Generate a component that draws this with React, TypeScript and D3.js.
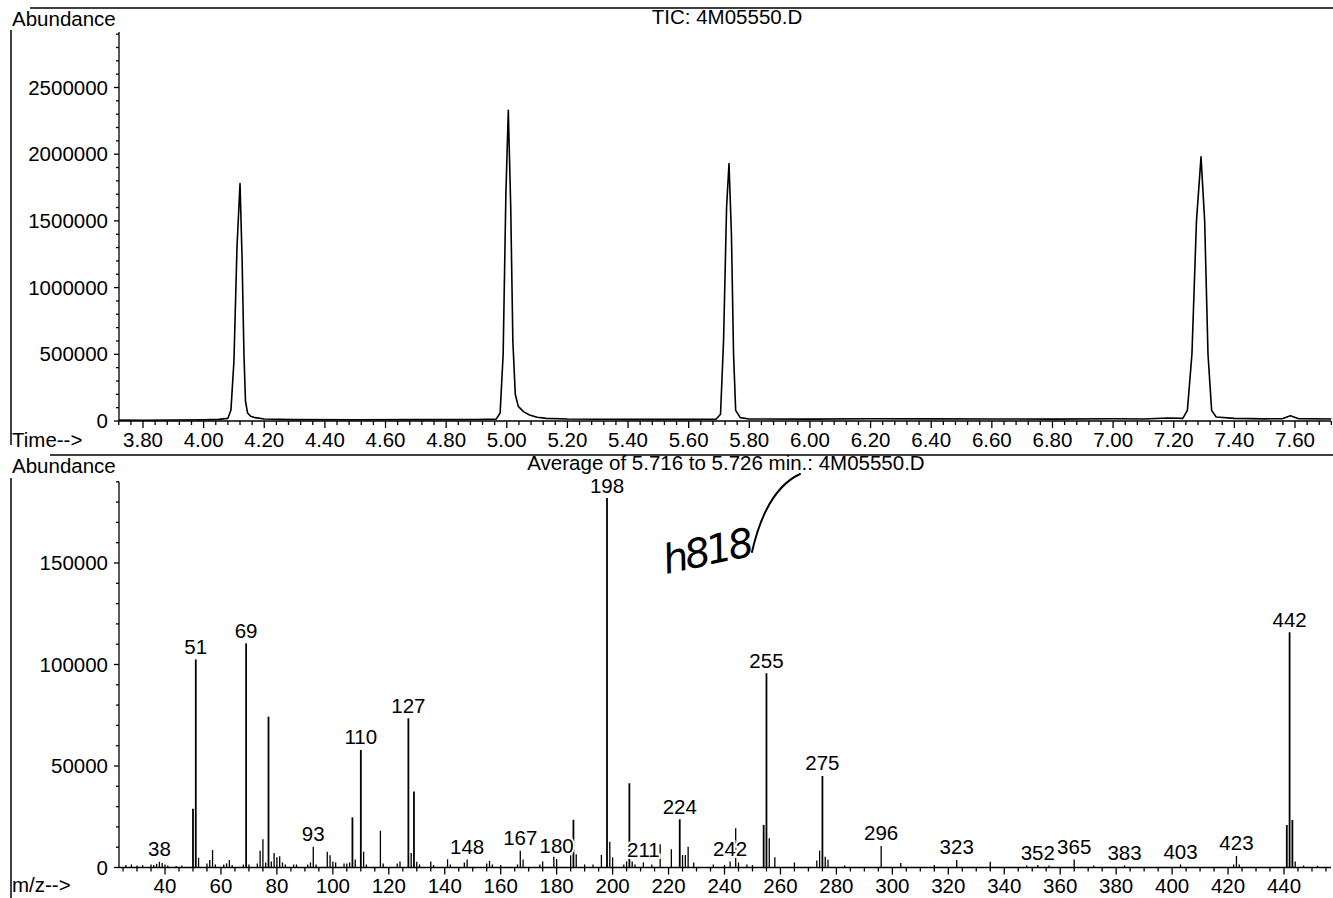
import { useEffect, useRef } from 'react';
import * as d3 from 'd3';

// TIC chromatogram (time in min, abundance)
const ticTime = [
  3.72, 3.8, 3.9, 4.0, 4.05, 4.08, 4.09, 4.1, 4.11, 4.12, 4.127, 4.133, 4.138, 4.145, 4.155, 4.17, 4.2, 4.3,
  4.5, 4.7, 4.9, 4.965, 4.978, 4.988, 4.997, 5.005, 5.013, 5.02, 5.028, 5.038, 5.055, 5.075, 5.1, 5.13, 5.2,
  5.4, 5.6, 5.69, 5.705, 5.715, 5.725, 5.733, 5.741, 5.748, 5.755, 5.77, 5.8, 6.0, 6.2, 6.4, 6.6, 6.8, 7.0,
  7.1, 7.18, 7.23, 7.245, 7.26, 7.275, 7.29, 7.302, 7.313, 7.325, 7.34, 7.4, 7.5, 7.56, 7.585, 7.61, 7.72,
];
const ticAbundance = [
  8000, 6000, 7000, 9000, 12000, 20000, 80000, 450000, 1300000, 1780000, 1200000, 500000, 150000, 60000, 35000,
  25000, 15000, 10000, 9000, 10000, 11000, 14000, 60000, 500000, 1700000, 2330000, 1600000, 600000, 200000,
  110000, 70000, 45000, 28000, 20000, 15000, 12000, 12000, 13000, 50000, 600000, 1600000, 1930000, 1400000,
  500000, 80000, 25000, 15000, 14000, 17000, 16000, 15000, 14000, 17000, 15000, 22000, 20000, 80000, 500000,
  1500000, 1980000, 1500000, 500000, 80000, 30000, 20000, 16000, 18000, 40000, 18000, 15000,
];

// Mass spectrum, average of 5.716 to 5.726 min
const msMz = [
  26, 28, 30, 32, 35, 36, 37, 38, 39, 40, 41, 44, 46, 50, 51, 52, 55, 56, 57, 58, 61, 62, 63, 64, 68, 69, 70,
  73, 74, 75, 76, 77, 78, 79, 80, 81, 82, 83, 86, 87, 91, 92, 93, 94, 98, 99, 100, 101, 104, 105, 106, 107,
  108, 110, 111, 112, 117, 118, 123, 124, 127, 128, 129, 130, 131, 135, 136, 141, 142, 147, 148, 155, 156,
  157, 160, 166, 167, 168, 174, 175, 179, 180, 185, 186, 187, 190, 193, 196, 198, 199, 200, 204, 205, 206,
  207, 208, 211, 214, 217, 221, 224, 225, 226, 227, 229, 236, 240, 242, 244, 245, 248, 250, 254, 255, 256,
  258, 265, 273, 274, 275, 276, 277, 283, 296, 303, 315, 323, 335, 348, 352, 356, 365, 372, 383, 403, 422,
  423, 424, 441, 442, 443, 444, 447, 452,
];
const msAbundance = [
  1200, 1500, 1000, 1200, 1500, 1200, 1800, 2800, 2200, 1500, 1000, 800, 1000, 29000, 102500, 4800, 2000,
  3700, 8600, 1500, 1500, 2000, 3700, 1200, 1500, 110400, 1500, 2000, 8300, 13900, 2500, 74300, 3000, 7100,
  5000, 5500, 2500, 1500, 1500, 1500, 1500, 2500, 10200, 1500, 7800, 6000, 3000, 2500, 2000, 2000, 2500,
  24700, 4000, 57900, 7800, 1500, 18100, 2000, 2000, 3000, 73500, 7100, 37400, 2800, 1500, 2900, 1200, 4000,
  1500, 2500, 4000, 2000, 3300, 1500, 1200, 1500, 8300, 4000, 1500, 3000, 5300, 4200, 6000, 23500, 6500,
  1500, 1500, 6200, 182000, 12700, 5000, 1500, 3000, 41500, 3000, 1500, 2500, 1500, 11400, 9000, 23700, 6200,
  6200, 10200, 2500, 1500, 1200, 3000, 19300, 2500, 1500, 1200, 21000, 95700, 14400, 5000, 2500, 3500, 8300,
  45100, 5300, 3800, 1000, 10600, 2200, 1200, 3700, 2800, 1000, 1200, 1000, 4000, 1000, 1000, 1500, 1500,
  5700, 1500, 20900, 115900, 23400, 3000, 1000, 800,
];
const msLabels = [38, 51, 69, 93, 110, 127, 148, 167, 180, 198, 211, 224, 242, 255, 275, 296, 323, 352, 365, 383, 403, 423, 442];

const ticYTicks = [0, 500000, 1000000, 1500000, 2000000, 2500000];
const ticXTicks = [3.8, 4.0, 4.2, 4.4, 4.6, 4.8, 5.0, 5.2, 5.4, 5.6, 5.8, 6.0, 6.2, 6.4, 6.6, 6.8, 7.0, 7.2, 7.4, 7.6];
const msYTicks = [0, 50000, 100000, 150000];
const msXTicks = [40, 60, 80, 100, 120, 140, 160, 180, 200, 220, 240, 260, 280, 300, 320, 340, 360, 380, 400, 420, 440];

const FONT = '"Liberation Sans", Arial, Helvetica, sans-serif';

export default function App() {
  const svgRef = useRef<SVGSVGElement | null>(null);

  useEffect(() => {
    document.body.style.margin = '0';
    if (!svgRef.current) return;
    const svg = d3.select(svgRef.current);
    svg.selectAll('*').remove();
    svg.attr('font-family', FONT).attr('font-size', 20.5);

    const W = 1333;
    const axisLeft = 119;
    const axisRight = 1331;

    // frame lines
    const frame = svg.append('g').attr('stroke', '#000').attr('stroke-width', 1.5);
    frame.append('line').attr('x1', 30).attr('x2', W).attr('y1', 8).attr('y2', 8);
    frame.append('line').attr('x1', 11).attr('x2', 11).attr('y1', 30).attr('y2', 445);
    frame.append('line').attr('x1', 11).attr('x2', 11).attr('y1', 478).attr('y2', 898);
    frame.append('line').attr('x1', 50).attr('x2', W).attr('y1', 455).attr('y2', 455);

    // ---------- TIC panel ----------
    const xT = d3.scaleLinear().domain([3.8, 7.6]).range([143, 1295]);
    const yT = d3.scaleLinear().domain([0, 2500000]).range([421, 87.5]);
    const top = svg.append('g');

    top.append('text').attr('x', 12).attr('y', 26).text('Abundance');
    top.append('text').attr('x', 727).attr('y', 24).attr('text-anchor', 'middle').text('TIC: 4M05550.D');

    const ax = top.append('g').attr('stroke', '#000').attr('stroke-width', 1.3);
    ax.append('line').attr('x1', axisLeft).attr('x2', axisLeft).attr('y1', 32).attr('y2', yT(0));
    ax.append('line').attr('x1', axisLeft).attr('x2', axisRight).attr('y1', yT(0)).attr('y2', yT(0));
    d3.range(0, 2900001, 100000).forEach((v) => {
      const major = v % 500000 === 0;
      ax.append('line').attr('x1', axisLeft - (major ? 5 : 3)).attr('x2', axisLeft)
        .attr('y1', yT(v)).attr('y2', yT(v));
    });
    d3.range(3.72, 7.73, 0.04).forEach((t) => {
      const major = Math.abs(Math.round(t * 5) - t * 5) < 0.01;
      ax.append('line').attr('x1', xT(t)).attr('x2', xT(t))
        .attr('y1', yT(0)).attr('y2', yT(0) + (major ? 7 : 4));
    });
    top.append('g').selectAll('text').data(ticYTicks).join('text')
      .attr('x', 108).attr('y', (d) => yT(d) + 7).attr('text-anchor', 'end').text((d) => String(d));
    top.append('g').selectAll('text').data(ticXTicks).join('text')
      .attr('x', (d) => xT(d)).attr('y', 447).attr('text-anchor', 'middle').text((d) => d.toFixed(2));
    top.append('text').attr('x', 12).attr('y', 447).text('Time-->');

    const line = d3.line<number>().x((_, i) => xT(ticTime[i])).y((d) => yT(d));
    top.append('path').datum(ticAbundance).attr('d', line).attr('fill', 'none')
      .attr('stroke', '#000').attr('stroke-width', 1.6).attr('stroke-linejoin', 'round');

    // ---------- Mass spectrum panel ----------
    const xM = d3.scaleLinear().domain([40, 440]).range([165, 1284]);
    const yM = d3.scaleLinear().domain([0, 150000]).range([867.5, 563]);
    const bot = svg.append('g');

    bot.append('text').attr('x', 12).attr('y', 473).text('Abundance');
    bot.append('text').attr('x', 726).attr('y', 470).attr('text-anchor', 'middle')
      .text('Average of 5.716 to 5.726 min.: 4M05550.D');

    const bx = bot.append('g').attr('stroke', '#000').attr('stroke-width', 1.3);
    bx.append('line').attr('x1', axisLeft).attr('x2', axisLeft).attr('y1', yM(190000)).attr('y2', yM(0));
    bx.append('line').attr('x1', axisLeft).attr('x2', axisRight).attr('y1', yM(0)).attr('y2', yM(0));
    d3.range(0, 190001, 10000).forEach((v) => {
      const major = v % 50000 === 0;
      bx.append('line').attr('x1', axisLeft - (major ? 5 : 3)).attr('x2', axisLeft)
        .attr('y1', yM(v)).attr('y2', yM(v));
    });
    d3.range(25, 456, 5).forEach((m) => {
      const major = m % 20 === 0;
      bx.append('line').attr('x1', xM(m)).attr('x2', xM(m))
        .attr('y1', yM(0)).attr('y2', yM(0) + (major ? 7 : 4));
    });
    bot.append('g').selectAll('text').data(msYTicks).join('text')
      .attr('x', 108).attr('y', (d) => yM(d) + 7).attr('text-anchor', 'end').text((d) => String(d));
    bot.append('g').selectAll('text').data(msXTicks).join('text')
      .attr('x', (d) => xM(d)).attr('y', 893).attr('text-anchor', 'middle').text((d) => String(d));
    bot.append('text').attr('x', 12).attr('y', 892).text('m/z-->');

    bot.append('g').selectAll('line').data(msMz).join('line')
      .attr('x1', (d) => xM(d)).attr('x2', (d) => xM(d))
      .attr('y1', yM(0)).attr('y2', (_, i) => yM(msAbundance[i]))
      .attr('stroke', '#000')
      .attr('stroke-width', (_, i) => (msAbundance[i] > 20000 ? 1.8 : 1.3));

    const abundanceOf = (m: number) => msAbundance[msMz.indexOf(m)] ?? 0;
    bot.append('g').selectAll('text').data(msLabels).join('text')
      .attr('x', (d) => xM(d)).attr('y', (d) => yM(abundanceOf(d)) - 5.5)
      .attr('text-anchor', 'middle')
      .attr('stroke', '#fff').attr('stroke-width', 4).attr('paint-order', 'stroke')
      .attr('fill', '#000')
      .text((d) => String(d));

    // handwritten note
    bot.append('path').attr('d', 'M800,474 Q766,490 752,552').attr('fill', 'none')
      .attr('stroke', '#000').attr('stroke-width', 2).attr('stroke-linecap', 'round');
    bot.append('text').attr('x', 666).attr('y', 574)
      .attr('transform', 'rotate(-12 666 574)')
      .attr('font-family', '"DejaVu Sans", sans-serif').attr('font-style', 'italic')
      .attr('font-size', 40).attr('textLength', 92).text('h818');
  }, []);

  return <svg ref={svgRef} width={1333} height={898} style={{ display: 'block', background: '#fff' }} />;
}
